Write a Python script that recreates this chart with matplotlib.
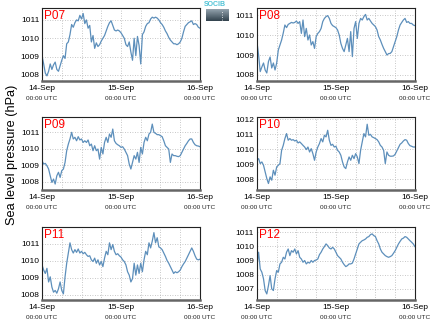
import matplotlib
matplotlib.use("Agg")
import matplotlib.pyplot as plt
import matplotlib.ticker as ticker
import numpy as np

plt.rcParams["font.family"] = ["Liberation Sans", "DejaVu Sans"]

# ── half-hourly sea level pressure (hPa), 14-Sep 00:00 → 16-Sep 00:00 UTC ──
HOURS = np.arange(0, 48.5, 0.5)

P07 = [1009.05, 1008.6, 1008.1, 1007.95, 1008.2, 1008.6, 1008.3, 1008.55, 1008.7, 1008.3,
       1008.2, 1008.5, 1008.8, 1009.05, 1008.9, 1009.7, 1009.8, 1010.2, 1010.75, 1010.6,
       1010.85, 1011.0, 1010.95, 1011.25, 1011.05, 1011.35, 1010.8, 1011.0, 1010.55, 1010.7,
       1009.8, 1010.15, 1009.45, 1009.75, 1009.55, 1009.65, 1009.85, 1010.0, 1010.15, 1010.4,
       1010.65, 1010.85, 1010.95, 1010.7, 1010.45, 1010.4, 1010.45, 1010.4, 1010.3, 1010.15,
       1010.0, 1009.65, 1009.55, 1009.8, 1009.25, 1008.8, 1010.0, 1009.05, 1010.1, 1009.6,
       1008.6, 1010.2, 1010.35, 1010.65, 1010.8, 1010.85, 1011.05, 1011.15, 1011.1, 1011.15,
       1011.1, 1011.0, 1010.85, 1010.75, 1010.6, 1010.4, 1010.25, 1010.05, 1009.9, 1009.8,
       1009.7, 1009.7, 1009.65, 1009.7, 1009.8, 1010.0, 1010.35, 1010.65, 1010.75, 1010.85,
       1010.9, 1010.95, 1010.75, 1010.8, 1010.75, 1010.6, 1010.55]

P08 = [1009.67, 1009.0, 1008.17, 1008.4, 1008.6, 1008.25, 1008.1, 1008.67, 1008.9, 1008.35,
       1008.6, 1008.25, 1008.6, 1009.25, 1009.5, 1009.75, 1010.1, 1010.5, 1010.37, 1010.53,
       1010.58, 1010.63, 1010.6, 1010.63, 1010.7, 1010.58, 1010.67, 1010.08, 1010.75, 1009.92,
       1010.33, 1009.75, 1010.0, 1009.5, 1009.67, 1009.33, 1009.92, 1010.08, 1010.17, 1010.33,
       1010.67, 1010.83, 1010.92, 1010.97, 1010.83, 1010.58, 1010.47, 1010.42, 1010.37, 1010.25,
       1010.0, 1009.58, 1009.33, 1009.17, 1009.5, 1009.83, 1009.17, 1010.17, 1008.92, 1010.33,
       1010.67, 1009.83, 1010.58, 1010.83, 1010.75, 1010.92, 1011.03, 1010.75, 1010.83, 1010.7,
       1010.58, 1010.5, 1010.42, 1010.25, 1009.92, 1009.75, 1009.53, 1009.33, 1009.17, 1009.0,
       1009.07, 1009.08, 1009.17, 1009.42, 1009.67, 1009.92, 1010.25, 1010.5, 1010.63, 1010.75,
       1010.83, 1010.63, 1010.67, 1010.58, 1010.58, 1010.5, 1010.47]

P09 = [1009.27, 1009.07, 1009.11, 1008.97, 1008.77, 1008.36, 1007.96, 1008.16, 1007.86, 1008.36,
       1008.57, 1008.26, 1008.67, 1008.77, 1009.17, 1009.88, 1010.28, 1010.59, 1010.99, 1010.59,
       1010.69, 1010.48, 1010.73, 1010.53, 1010.59, 1010.38, 1010.48, 1010.38, 1010.53, 1010.18,
       1010.28, 1009.88, 1010.18, 1009.88, 1009.98, 1009.37, 1010.08, 1009.68, 1010.38, 1010.69,
       1010.38, 1010.89, 1010.69, 1011.19, 1010.48, 1010.32, 1010.24, 1010.18, 1010.08, 1010.12,
       1009.98, 1009.78, 1009.58, 1009.07, 1008.77, 1009.17, 1009.58, 1009.37, 1009.78, 1009.17,
       1010.08, 1009.68, 1010.38, 1010.69, 1010.48, 1010.89, 1010.99, 1011.49, 1010.99, 1010.93,
       1010.85, 1010.85, 1010.79, 1010.73, 1010.48, 1010.18, 1010.08, 1009.98, 1009.17, 1009.68,
       1009.58, 1009.58, 1009.54, 1009.52, 1009.58, 1009.78, 1009.98, 1010.18, 1010.32, 1010.48,
       1010.59, 1010.59, 1010.38, 1010.24, 1010.18, 1010.16, 1010.12]

P10 = [1009.27, 1009.38, 1009.05, 1009.16, 1008.94, 1008.5, 1008.06, 1007.73, 1008.17, 1007.95,
       1008.61, 1008.28, 1008.83, 1008.94, 1009.05, 1009.93, 1010.26, 1010.71, 1011.04, 1010.6,
       1010.71, 1010.6, 1010.64, 1010.55, 1010.6, 1010.42, 1010.49, 1010.38, 1010.26, 1010.15,
       1009.98, 1010.15, 1009.82, 1010.04, 1009.71, 1009.27, 1009.82, 1010.15, 1010.38, 1010.71,
       1010.49, 1010.93, 1010.82, 1011.26, 1010.6, 1010.26, 1010.33, 1010.15, 1010.2, 1009.93,
       1009.82, 1009.6, 1009.16, 1008.83, 1008.72, 1009.16, 1009.49, 1009.27, 1009.6, 1009.38,
       1009.71, 1009.49, 1009.05, 1009.93, 1010.49, 1011.04, 1010.82, 1011.66, 1010.93, 1010.99,
       1010.82, 1010.77, 1010.71, 1010.64, 1010.49, 1010.26, 1010.15, 1009.93, 1009.05, 1009.82,
       1009.6, 1009.54, 1009.54, 1009.56, 1009.67, 1009.89, 1010.11, 1010.33, 1010.42, 1010.55,
       1010.64, 1010.6, 1010.38, 1010.24, 1010.2, 1010.15, 1010.15]

P11 = [1009.74, 1009.44, 1009.24, 1009.54, 1008.74, 1009.04, 1008.44, 1008.14, 1008.24, 1008.08,
       1008.34, 1008.74, 1008.24, 1008.04, 1009.04, 1009.84, 1010.44, 1011.04, 1010.64, 1010.44,
       1010.64, 1010.48, 1010.68, 1010.44, 1010.54, 1010.4, 1010.48, 1010.34, 1010.24, 1010.28,
       1010.04, 1009.94, 1010.14, 1009.84, 1010.04, 1009.74, 1009.94, 1009.64, 1010.14, 1010.54,
       1010.34, 1011.04, 1010.64, 1010.94, 1010.54, 1010.34, 1010.4, 1010.28, 1010.2, 1010.04,
       1009.94, 1009.74, 1009.34, 1009.14, 1008.74, 1008.94, 1009.84, 1009.14, 1009.74, 1009.24,
       1009.84, 1009.34, 1010.04, 1010.54, 1010.34, 1011.04, 1010.74, 1011.14, 1011.64, 1011.04,
       1011.34, 1010.8, 1010.74, 1010.64, 1010.44, 1010.24, 1010.0, 1009.84, 1009.64, 1009.44,
       1009.24, 1009.34, 1009.28, 1009.34, 1009.44, 1009.64, 1009.8, 1009.94, 1010.14, 1010.34,
       1010.54, 1010.74, 1010.54, 1010.28, 1010.08, 1010.04, 1010.08]

P12 = [1008.64, 1009.59, 1008.4, 1008.17, 1007.7, 1006.87, 1006.63, 1007.22, 1007.93, 1006.99,
       1006.87, 1007.7, 1008.29, 1008.17, 1008.76, 1008.88, 1009.23, 1009.11, 1009.59, 1009.82,
       1009.35, 1009.7, 1009.59, 1009.82, 1009.47, 1009.7, 1009.23, 1009.11, 1008.88, 1009.0,
       1008.76, 1008.88, 1008.82, 1009.0, 1008.88, 1009.0, 1009.04, 1009.11, 1009.42, 1009.59,
       1009.82, 1009.99, 1010.18, 1010.06, 1009.89, 1009.82, 1009.94, 1009.82, 1009.59, 1009.35,
       1009.23, 1009.11, 1008.88, 1008.71, 1008.57, 1008.64, 1008.76, 1008.76, 1008.82, 1009.11,
       1009.47, 1009.82, 1010.18, 1010.3, 1010.41, 1010.46, 1010.53, 1010.65, 1010.7, 1010.84,
       1010.89, 1010.77, 1010.7, 1010.41, 1010.18, 1009.82, 1009.59, 1009.47, 1009.35, 1009.28,
       1009.23, 1009.28, 1009.35, 1009.52, 1009.7, 1009.94, 1010.18, 1010.36, 1010.53, 1010.59,
       1010.7, 1010.65, 1010.53, 1010.41, 1010.3, 1010.18, 1009.99]

STATIONS = ["P07", "P08", "P09", "P10", "P11", "P12"]
SERIES = [P07, P08, P09, P10, P11, P12]
YLIMS = [(1007.67, 1011.65), (1007.7, 1011.35), (1007.5, 1011.92),
         (1007.3, 1012.14), (1007.68, 1011.97), (1006.2, 1011.38)]
DAY_TICKS = [0, 24, 48]
DAY_LABELS = ["14-Sep", "15-Sep", "16-Sep"]

LINE_COLOR = "#5d8fbb"

fig = plt.figure(figsize=(4.34, 3.27), dpi=100)

# panel boxes in figure fractions: two columns, three rows
lefts = [0.0968, 0.592]
bottoms = [0.7523, 0.419, 0.0826]
W, H = 0.364, 0.2232

for i, (name, vals, ylim) in enumerate(zip(STATIONS, SERIES, YLIMS)):
    row, col = divmod(i, 2)
    ax = fig.add_axes([lefts[col], bottoms[row], W, H])
    ax.plot(HOURS, vals, color=LINE_COLOR, linewidth=0.9)
    ax.set_xlim(0, 48)
    ax.set_ylim(*ylim)

    ax.xaxis.set_major_locator(ticker.FixedLocator(DAY_TICKS))
    ax.xaxis.set_minor_locator(ticker.MultipleLocator(6))
    ax.set_xticklabels(DAY_LABELS)
    ax.yaxis.set_major_locator(ticker.MultipleLocator(1))
    ax.yaxis.set_major_formatter(ticker.FormatStrFormatter("%d"))
    ax.grid(True, which="both", axis="x", color="#b5b5b5", linestyle=(0, (1, 2)), linewidth=0.6)
    ax.grid(True, which="major", axis="y", color="#b5b5b5", linestyle=(0, (1, 2)), linewidth=0.6)
    ax.tick_params(axis="both", which="both", direction="in", length=0, labelsize=6, pad=2)
    ax.tick_params(axis="x", pad=3)

    for side in ("top", "left", "right"):
        ax.spines[side].set_color("#222222")
        ax.spines[side].set_linewidth(0.8)
    ax.spines["bottom"].set_color("#666666")
    ax.spines["bottom"].set_linewidth(1.8)

    for x in DAY_TICKS:
        ax.text(x, -0.235, "00:00 UTC", transform=ax.get_xaxis_transform(),
                ha="center", va="center", fontsize=4.6, color="#222222")

    ax.text(0.015, 0.97, name, transform=ax.transAxes, ha="left", va="top",
            fontsize=8.5, color="#ff0000")

fig.text(0.028, 0.527, "Sea level pressure (hPa)", rotation=90,
         ha="center", va="center", fontsize=9.2)

# small logo between the two top panels
fig.text(0.4955, 0.998, "SOCIB", ha="center", va="top", fontsize=5,
         color="#4fc3d6", fontweight="bold")
logo = fig.add_axes([0.475, 0.935, 0.052, 0.038])
logo.imshow(np.linspace(0, 1, 20).reshape(-1, 1), aspect="auto", extent=[0, 1, 0, 1],
            cmap=matplotlib.colors.LinearSegmentedColormap.from_list(
                "logo", ["#9aa9b4", "#34444f"]))
logo.plot([0.7, 0.7], [0.1, 0.9], color="white", linestyle=(0, (1, 2)), linewidth=0.6)
logo.set_xlim(0, 1)
logo.set_ylim(0, 1)
logo.set_axis_off()

fig.savefig("out.png", dpi=100)
